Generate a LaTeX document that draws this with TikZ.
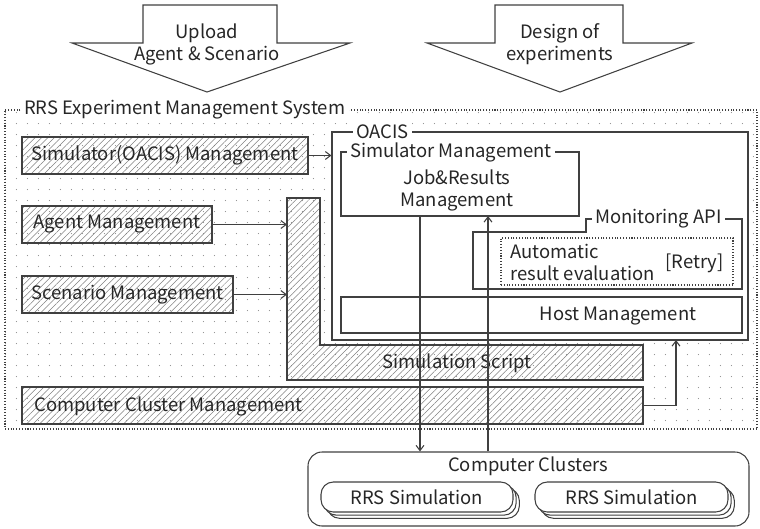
\documentclass[tikz,border=0pt]{standalone}
\usepackage{fontspec}
\setmainfont{Noto Sans CJK JP}
\usetikzlibrary{arrows.meta,fit,patterns,patterns.meta,shadows}
\definecolor{LineClr}{gray}{0.25}
\definecolor{HatchClr}{gray}{0.5}
\definecolor{DotClr}{gray}{0.55}

\tikzdeclarepattern{
  name=bgdots,
  type=uncolored,
  bounding box={(0,0) and (6.5pt,6.5pt)},
  tile size={(6.5pt,6.5pt)},
  code={\pgfpathcircle{\pgfqpoint{3.25pt}{3.25pt}}{0.35pt}\pgfusepath{fill}}
}

\begin{document}
\begin{tikzpicture}[x=0.02cm,y=-0.02cm,line width=0.6pt,
  every node/.style={font=\fontsize{10.5}{12.5}\selectfont,text=black!85},
  bigarrow/.style={draw=LineClr,fill=white,line join=miter},
  sysbox/.style={draw=LineClr,densely dotted,pattern=bgdots,pattern color=DotClr,inner sep=0pt},
  hatchbox/.style={draw=LineClr,pattern={Lines[angle=45,distance=2.6pt,line width=0.3pt]},pattern color=HatchClr,inner sep=0pt},
  plainbox/.style={draw=LineClr,fill=white,inner sep=0pt},
  evalbox/.style={draw=LineClr,densely dotted,fill=white,inner sep=0pt},
  tag/.style={fill=white,inner sep=2pt},
  simbox/.style={draw=LineClr,fill=white,rounded corners=7pt,inner sep=0pt,
    double copy shadow={shadow xshift=1.8pt,shadow yshift=-1.8pt}},
  conn/.style={draw=LineClr,-{Straight Barb[length=3pt,width=4.5pt]}}]
\useasboundingbox (0,0) rectangle (760,528);

\draw[bigarrow] (143,5) -- (277,5) -- (277,43) -- (350,43) -- (207,92) -- (72,43) -- (143,43) -- cycle;
\node[align=center] (upload) at (207,44) {Upload\\Agent \& Scenario};
\draw[bigarrow] (495,5) -- (623,5) -- (623,43) -- (692,43) -- (560,92) -- (427,43) -- (495,43) -- cycle;
\node[align=center] (design) at (560,44) {Design of\\experiments};

\node[sysbox,fit={(5,110) (757,429)}] (sys) {};
\node[tag,anchor=west] (systitle) at (20,110) {RRS Experiment Management System};

\node[hatchbox,fit={(22,137) (308,174)}] (oacismgr) {};
\node (oacismgrlbl) at (oacismgr.center) {Simulator(OACIS) Management};
\node[hatchbox,fit={(22,206) (212,243)}] (agentmgr) {};
\node (agentmgrlbl) at (agentmgr.center) {Agent Management};
\node[hatchbox,fit={(22,276) (233,313)}] (scenmgr) {};
\node (scenmgrlbl) at (scenmgr.center) {Scenario Management};
\node[hatchbox,fit={(22,387) (643,424)}] (ccmgr) {};
\node[anchor=west] (ccmgrlbl) at (28,406) {Computer Cluster Management};

\coordinate (scriptin) at (287,198);
\draw[hatchbox] (scriptin) -- (320,198) -- (320,345) -- (643,345) -- (643,380) -- (287,380) -- cycle;
\node (script) at (457,363) {Simulation Script};

\node[plainbox,fit={(332,132) (748,340)}] (oacis) {};
\node[tag,anchor=west] (oacistitle) at (352,132) {OACIS};

\node[plainbox,fit={(341,152) (579,216)}] (simmgr) {};
\node[tag,anchor=west] (simmgrtitle) at (346,152) {Simulator Management};
\node[align=center] (jobres) at (457,190) {Job\&Results\\Management};

\draw[plainbox] (473,232) -- (586,232) -- (586,219) -- (742,219) -- (742,289) -- (473,289) -- cycle;
\node[tag,anchor=west] (monapi) at (591,219) {Monitoring API};
\node[evalbox,fit={(501,238) (733,285)}] (autoeval) {};
\node[align=left,anchor=west] (autolbl) at (504,262) {Automatic\\result evaluation};
\node[anchor=east] (retry) at (730,263) {[Retry]};

\node[plainbox,fit={(341,297) (742,333)}] (host) {};
\node (hostlbl) at (618,316) {Host Management};

\node[draw=LineClr,rounded corners=8pt,inner sep=0pt,fit={(308,452) (749,526)}] (clusters) {};
\node (clusterlbl) at (528,466) {Computer Clusters};
\node[simbox,fit={(321,482) (513,512)}] (simA) {};
\node (simAlbl) at (simA.center) {RRS Simulation};
\node[simbox,fit={(535,482) (728,512)}] (simB) {};
\node (simBlbl) at (simB.center) {RRS Simulation};

\coordinate (jobout) at (420,216);
\coordinate (jobin) at (488,216);
\coordinate (hostin) at (676,340);
\draw[conn] (oacismgr.east) -- (oacismgr.east -| oacis.west);
\draw[conn] (agentmgr.east) -- (agentmgr.east -| scriptin);
\draw[conn] (scenmgr.east) -- (scenmgr.east -| scriptin);
\draw[conn] (ccmgr.east) -| (hostin);
\draw[conn] (jobout) -- (jobout |- clusters.north);
\draw[conn] (jobin |- clusters.north) -- (jobin);

\end{tikzpicture}
\end{document}
